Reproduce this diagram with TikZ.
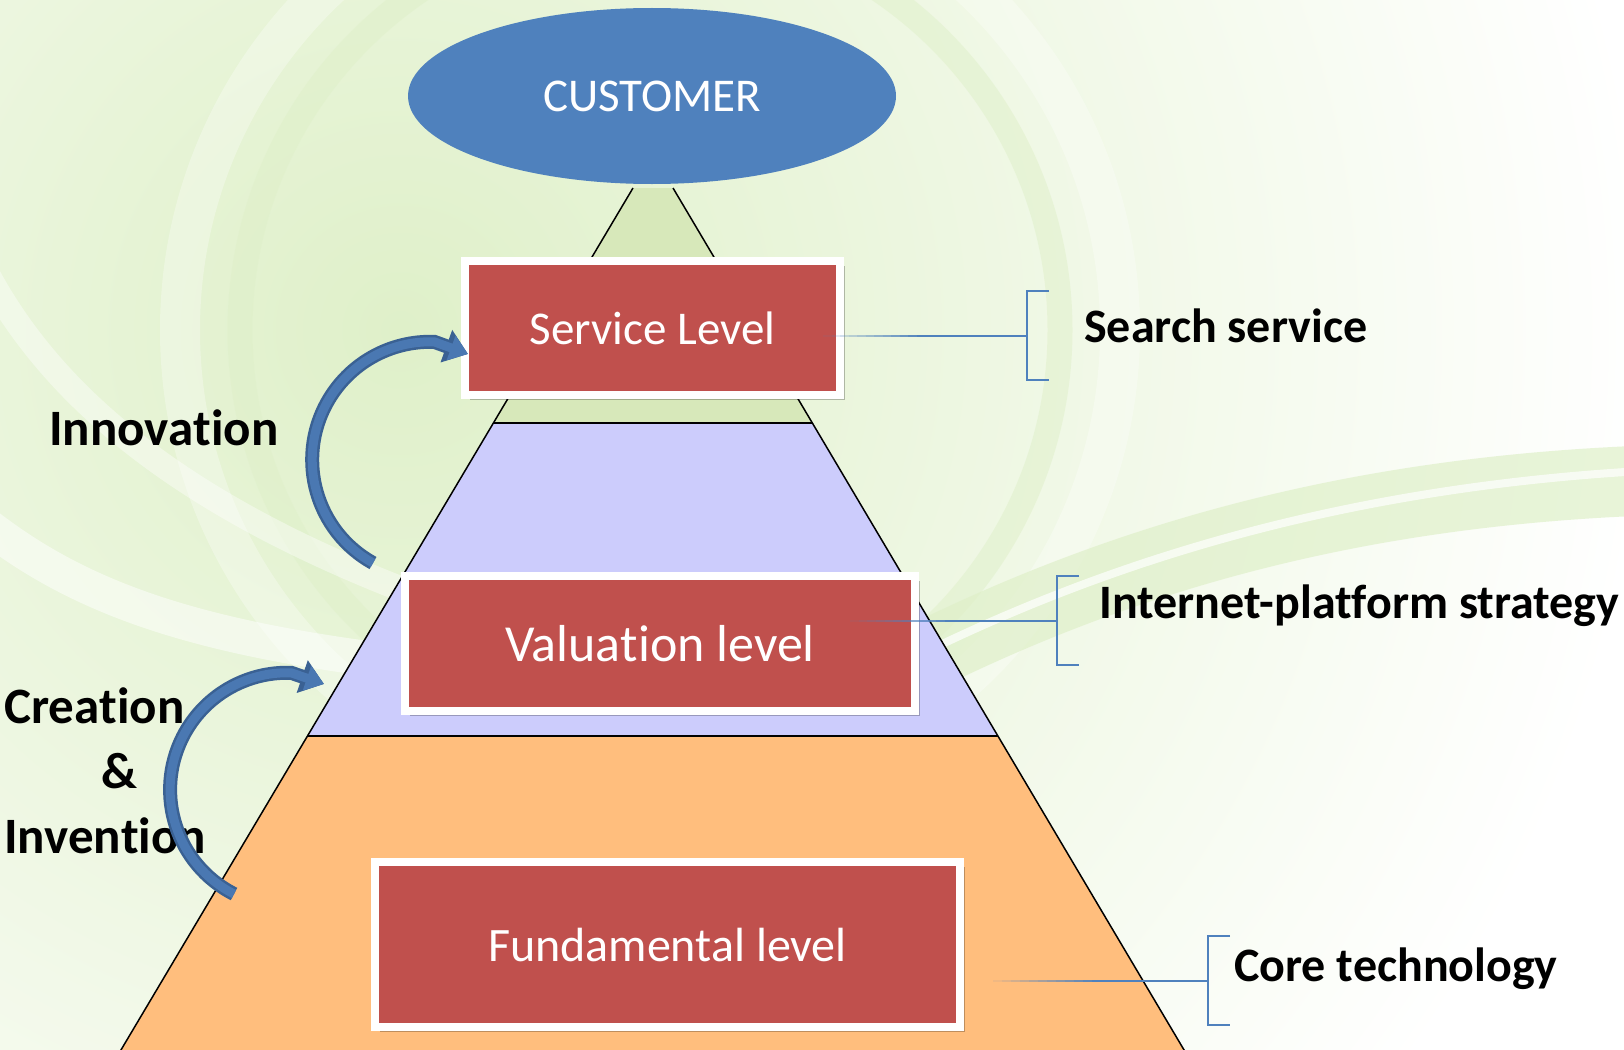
\documentclass[tikz,border=0pt]{standalone}
\usepackage{fontspec}
\setmainfont{Carlito}[Ligatures={NoCommon,NoContextual}, Contextuals=NoAlternate]
\usepackage{tikz}
\usetikzlibrary{calc,shapes.geometric,arrows.meta,shadows}

\definecolor{custblue}{HTML}{4F81BD}
\definecolor{arrowblue}{HTML}{4A78B2}
\definecolor{arrowedge}{HTML}{3A6193}
\definecolor{levelred}{HTML}{C0504D}
\definecolor{topgreen}{HTML}{D7E8BA}
\definecolor{midviolet}{HTML}{CCCCFC}
\definecolor{baseorange}{HTML}{FFBE7D}
\definecolor{bggreen}{HTML}{DFF0C9}

\newcommand{\fsz}[1]{\fontsize{#1}{#1}\selectfont}

\tikzset{
  levelbox/.style={fill=levelred, draw=white, line width=8pt, inner sep=0pt, text=white,
    drop shadow={shadow xshift=5pt, shadow yshift=-5pt, opacity=0.25, fill=black}},
  sidelabel/.style={font=\fsz{48}\bfseries, inner sep=0pt, anchor=base west},
  leftlabel/.style={font=\fsz{51}\bfseries, inner sep=0pt},
  bracketline/.style={custblue, line width=2pt},
  bigarrow/.style={arrowedge, line width=14pt, -{Triangle[length=23pt,width=33pt]}},
  innerarrow/.style={arrowblue, line width=9pt, -{Triangle[length=18pt,width=25pt]}},
}

% faded connector from a level to its bracket
\newcommand{\fadeline}[2]{%
  \foreach \k in {1,...,12}{%
    \draw[bracketline, opacity=\k/12] ($(#1)!{(\k-1)/24}!(#2)$) -- ($(#1)!{\k/24}!(#2)$);}
  \draw[bracketline] ($(#1)!0.5!(#2)$) -- (#2);}

% square bracket opening to the right
\newcommand{\sidebracket}[1]{%
  \draw[bracketline] ($(#1)+(22,-45)$) -| ($(#1)+(0,44)$) -- ++(22,0);}

\begin{document}
\begin{tikzpicture}[x=1pt,y=-1pt]
	%background
	    \useasboundingbox (0,0) rectangle (1624,1049);
	    \fill[white] (0,0) rectangle (1624,1049);
	    \shade[inner color=bggreen, outer color=white] (400,330) circle (1250);
	    \draw[white, line width=40, opacity=0.3] (650,330) circle (470);
	    \draw[bggreen, line width=25, opacity=0.5] (650,330) circle (410);
	    \draw[white, line width=35, opacity=0.5] (-20,520) .. controls (80,600) and (200,640) .. (420,665);
	    \draw[white, line width=25, opacity=0.4] (-20,260) .. controls (40,380) and (160,500) .. (430,600);
	    \draw[bggreen, line width=70, opacity=0.7] (860,690) .. controls (1100,560) and (1350,490) .. (1660,480);
	    \draw[white, line width=8, opacity=0.7] (880,675) .. controls (1110,555) and (1360,485) .. (1660,470);
	%the pyramid
	    \coordinate (apexL) at (633,188);
	    \coordinate (apexR) at (673,188);
	    \coordinate (topL) at (493,423);
	    \coordinate (topR) at (813,423);
	    \coordinate (midL) at (307,736);
	    \coordinate (midR) at (998,736);
	    \coordinate (botL) at (115,1060);
	    \coordinate (botR) at (1190,1060);
	    \fill[topgreen] (apexL) -- (apexR) -- (topR) -- (topL) -- cycle;
	    \fill[midviolet] (topL) -- (topR) -- (midR) -- (midL) -- cycle;
	    \fill[baseorange] (midL) -- (midR) -- (botR) -- (botL) -- cycle;
	    \draw[line width=1.5pt] (apexL) -- (botL);
	    \draw[line width=1.5pt] (apexR) -- (botR);
	    \draw[line width=1.5pt] (topL) -- (topR);
	    \draw[line width=1.5pt] (midL) -- (midR);
	%customer on top
	    \node[ellipse, fill=custblue, minimum width=488pt, minimum height=176pt, inner sep=0pt,
	          text=white, font=\fsz{47}] (customer) at (652,96) {CUSTOMER};
	%the three levels
	    \node[levelbox, minimum width=375pt, minimum height=134pt, font=\fsz{47}] (service) at (652.5,328) {Service Level};
	    \node[levelbox, minimum width=510pt, minimum height=135pt, font=\fsz{52}] (valuation) at (660,643.5) {Valua\kern0pt tion level};
	    \node[levelbox, minimum width=585pt, minimum height=165pt, font=\fsz{48}] (fundamental) at (667.5,944.5) {Fundamental level};
	%brackets and what each level stands for
	    \coordinate (svcFrom) at (823,336);
	    \coordinate (svcBrk) at (1027,336);
	    \coordinate (valFrom) at (850,621);
	    \coordinate (valBrk) at (1057,621);
	    \coordinate (funFrom) at (993,981);
	    \coordinate (funBrk) at (1208,981);
	    \fadeline{svcFrom}{svcBrk}
	    \fadeline{valFrom}{valBrk}
	    \fadeline{funFrom}{funBrk}
	    \sidebracket{svcBrk}
	    \sidebracket{valBrk}
	    \sidebracket{funBrk}
	    \node[sidelabel] (svcText) at (1084,342) {Search service};
	    \node[sidelabel] (valText) at (1099,618) {Internet-platform strategy};
	    \node[sidelabel] (funText) at (1234,981) {Core technology};
	%left side labels
	    \node[leftlabel, anchor=base west] (innoText) at (49,445) {Innova\kern0pt tion};
	    \node[leftlabel, anchor=base west] (creaText) at (4,723) {Crea\kern0pt tion};
	    \node[leftlabel, anchor=base] (ampText) at (119.5,788) {\&};
	    \node[leftlabel, anchor=base west] (inveText) at (4,853) {Inven\kern0pt tion};
	%curved arrows
	    \coordinate (innoTail) at (373,563);
	    \coordinate (innoTip) at (468,354);
	    \coordinate (creaTail) at (234,894);
	    \coordinate (creaTip) at (324,684);
	    \draw[bigarrow] (innoTail) arc[start angle=119, end angle=272, radius=118] -- (innoTip);
	    \draw[innerarrow] (innoTail) arc[start angle=119, end angle=272, radius=118] -- (innoTip);
	    \draw[bigarrow] (creaTail) arc[start angle=117, end angle=272, radius=117] -- (creaTip);
	    \draw[innerarrow] (creaTail) arc[start angle=117, end angle=272, radius=117] -- (creaTip);
\end{tikzpicture}
\end{document}
